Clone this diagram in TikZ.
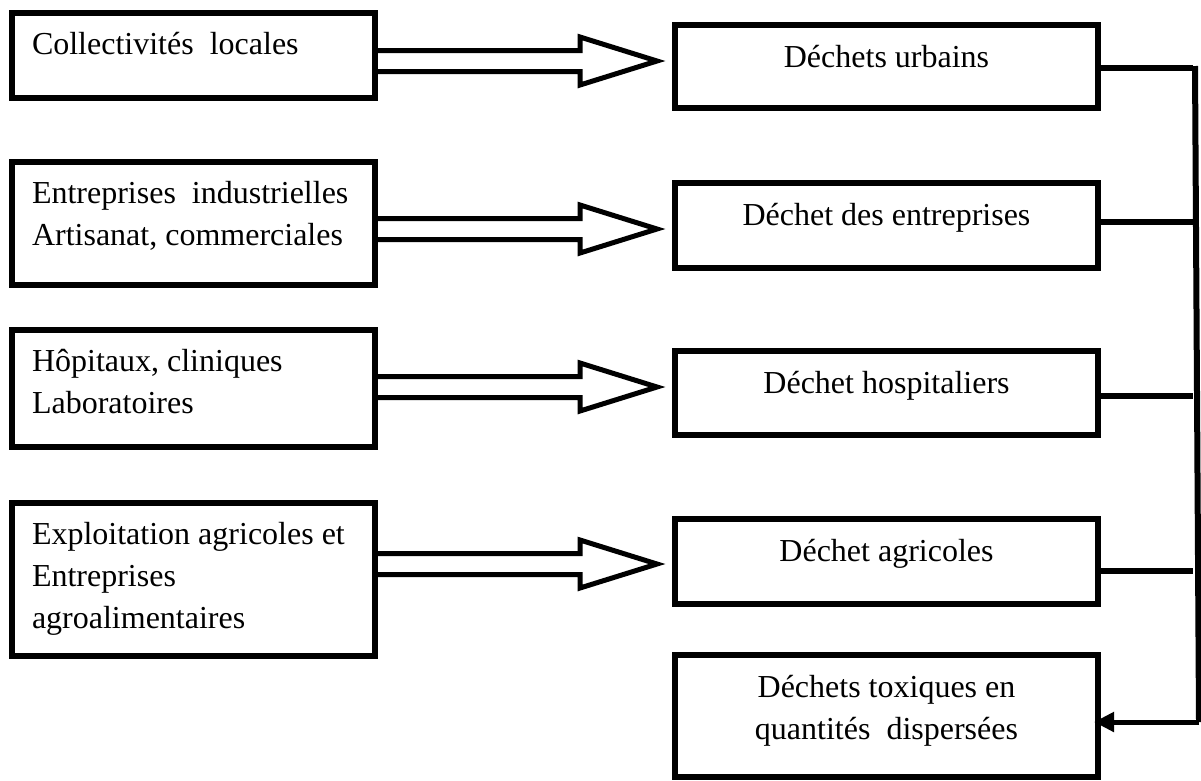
\documentclass[tikz,border=0pt]{standalone}
\usepackage{fontspec}
\setmainfont{Liberation Serif}
\usetikzlibrary{calc,arrows.meta}
% text blocks: fixed-height boxes, first baseline about 42pt below the frame
\newcommand\srcbody[2]{\parbox[t][#1][t]{323pt}{\raggedright\rule{0pt}{41pt}#2}}
\newcommand\wastebody[2]{\parbox[t][#1][t]{383pt}{\centering\rule{0pt}{42pt}#2}}
\begin{document}
\begin{tikzpicture}[x=1pt,y=-1pt,
  frame/.style={draw, line width=6pt, inner xsep=20pt, inner ysep=0pt,
    outer sep=0pt, anchor=north west, font=\fontsize{32}{42}\selectfont},
  fatarrow/.style={line width=5pt, line join=miter,
    to path={let \p1=(\tikztostart), \p2=(\tikztotarget) in
      (\x1,\y2+10.5pt) -- (\x2-77pt,\y2+10.5pt) -- (\x2-77pt,\y2+24pt)
      -- (\x2,\y2) -- (\x2-77pt,\y2-24pt) -- (\x2-77pt,\y2-10.5pt)
      -- (\x1,\y2-10.5pt)}},
  bus/.style={line width=6pt},
  ]
\useasboundingbox (0,0) rectangle (1201,780);

% sources
\node[frame] (L1) at (12,13)  {\srcbody{85pt}{Collectivités\ \ locales}};
\node[frame] (L2) at (12,162) {\srcbody{123pt}{Entreprises\ \ industrielles\\Artisanat, commerciales}};
\node[frame] (L3) at (12,330) {\srcbody{117pt}{Hôpitaux, cliniques\\Laboratoires}};
\node[frame] (L4) at (12,503) {\srcbody{153pt}{Exploitation agricoles et\\Entreprises\\agroalimentaires}};

% waste categories
\node[frame] (R1) at (675,25)  {\wastebody{83pt}{Déchets urbains}};
\node[frame] (R2) at (675,183) {\wastebody{85pt}{Déchet des entreprises}};
\node[frame] (R3) at (675,351) {\wastebody{84pt}{Déchet hospitaliers}};
\node[frame] (R4) at (675,519) {\wastebody{85pt}{Déchet agricoles}};
\node[frame] (R5) at (675,655) {\wastebody{122pt}{Déchets toxiques en\\quantités\ \ dispersées}};

% hollow block arrows
\coordinate (t1) at (657,61);
\coordinate (t2) at (657,229);
\coordinate (t3) at (657,387);
\coordinate (t4) at (657,564);
\draw[fatarrow] (L1.east) to (t1);
\draw[fatarrow] (L2.east) to (t2);
\draw[fatarrow] (L3.east) to (t3);
\draw[fatarrow] (L4.east) to (t4);

% collecting line on the right
\coordinate (spineTop) at (1195,66);
\coordinate (spineBot) at (1199,722);
\draw[bus] (spineTop) -- (spineBot);
\draw[bus] ([yshift=-1.5pt]R1.east) -- ++(95,0);
\draw[bus] ([yshift=3.5pt]R2.east) -- ++(95,0);
\draw[bus] ([yshift=-3pt]R3.east) -- ++(95,0);
\draw[bus] ([yshift=-9.5pt]R4.east) -- ++(95,0);
\draw[line width=5pt, -{Triangle[length=20pt,width=19pt]}, shorten >=-4pt]
  (spineBot) -- (R5.east |- spineBot);
\end{tikzpicture}
\end{document}
